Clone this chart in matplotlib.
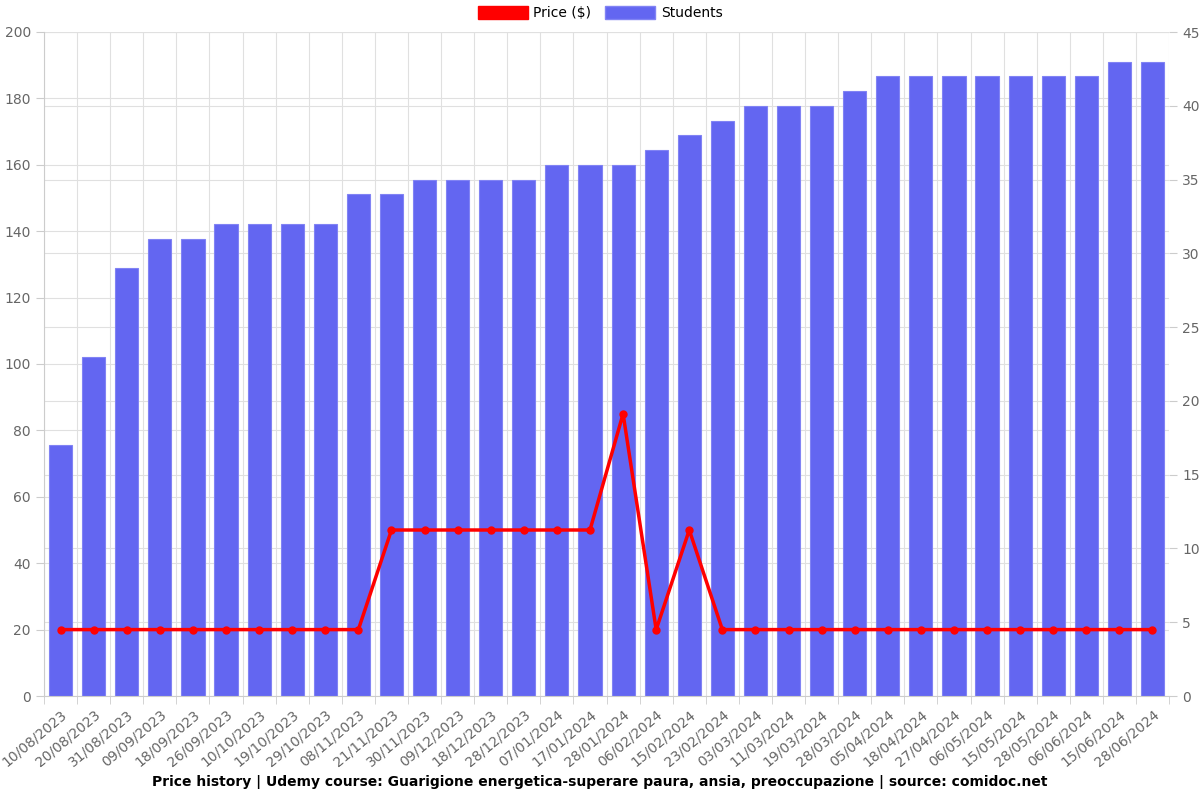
import numpy as np
import matplotlib
matplotlib.use("Agg")
import matplotlib.pyplot as plt

dates = ["10/08/2023", "20/08/2023", "31/08/2023", "09/09/2023", "18/09/2023", "26/09/2023",
         "10/10/2023", "19/10/2023", "29/10/2023", "08/11/2023", "21/11/2023", "30/11/2023",
         "09/12/2023", "18/12/2023", "28/12/2023", "07/01/2024", "17/01/2024", "28/01/2024",
         "06/02/2024", "15/02/2024", "23/02/2024", "03/03/2024", "11/03/2024", "19/03/2024",
         "28/03/2024", "05/04/2024", "18/04/2024", "27/04/2024", "06/05/2024", "15/05/2024",
         "28/05/2024", "06/06/2024", "15/06/2024", "28/06/2024"]
students = [17, 23, 29, 31, 31, 32, 32, 32, 32, 34, 34, 35, 35, 35, 35, 36, 36, 36,
            37, 38, 39, 40, 40, 40, 41, 42, 42, 42, 42, 42, 42, 42, 43, 43]
price = [20, 20, 20, 20, 20, 20, 20, 20, 20, 20, 50, 50, 50, 50, 50, 50, 50, 85,
         20, 50, 20, 20, 20, 20, 20, 20, 20, 20, 20, 20, 20, 20, 20, 20]

x = np.arange(len(dates))
grid_c = "#e0e0e0"
txt_c = "#666666"
s_max, p_max = 45, 200

fig = plt.figure(figsize=(12, 8), dpi=100)
ax_s = fig.add_axes([0.0367, 0.13, 0.9375, 0.83])
ax_p = ax_s.twinx()

# students bars (right axis)
ax_s.bar(x, students, width=0.7, color="#6366f1", edgecolor="#8183f4", linewidth=0.8, zorder=2)
ax_s.set_ylim(0, s_max)
ax_s.set_yticks(np.arange(0, 46, 5))
ax_s.yaxis.tick_right()
ax_s.set_xlim(-0.5, len(dates) - 0.5)
ax_s.set_xticks(x)
ax_s.set_xticklabels(dates, rotation=40, ha="right", rotation_mode="anchor", fontsize=10, color=txt_c)
ax_s.tick_params(axis="x", length=0, pad=8)
ax_s.set_xticks(np.arange(-0.5, len(dates), 1), minor=True)
ax_s.tick_params(axis="x", which="minor", length=6, color="#cccccc")
ax_s.grid(axis="x", which="minor", color=grid_c, linewidth=0.8, zorder=0)
ax_s.grid(axis="y", color=grid_c, linewidth=0.8, zorder=0)
# price grid lines, drawn behind the bars
for v in np.arange(20, 201, 20):
    ax_s.axhline(v * s_max / p_max, color=grid_c, linewidth=0.8, zorder=0)
ax_s.set_axisbelow(True)
ax_s.tick_params(axis="y", colors=txt_c, labelsize=10, length=6, right=True, left=False)
ax_s.tick_params(axis="y", color="#cccccc")

# price line (left axis)
ax_p.plot(x, price, color="#ff0000", linewidth=2.5, marker="o", markersize=5, zorder=3)
ax_p.set_ylim(0, p_max)
ax_p.set_yticks(np.arange(0, 201, 20))
ax_p.yaxis.tick_left()
ax_p.tick_params(axis="y", colors=txt_c, labelsize=10, length=6, left=True, right=False)
ax_p.tick_params(axis="y", color="#cccccc")

for a in (ax_s, ax_p):
    for side in ("top", "right"):
        a.spines[side].set_visible(False)
    a.spines["left"].set_color("#cccccc")
    a.spines["bottom"].set_color("#cccccc")
ax_s.spines["left"].set_visible(False)
ax_p.spines["bottom"].set_visible(False)

handles = [plt.Rectangle((0, 0), 1, 1, color="#ff0000"),
           plt.Rectangle((0, 0), 1, 1, facecolor="#6366f1", edgecolor="#8183f4")]
fig.legend(handles, ["Price ($)", "Students"], loc="upper center", bbox_to_anchor=(0.5, 1.008),
           ncol=2, frameon=False, fontsize=10, handlelength=3.6, handleheight=1.1,
           handletextpad=0.4, columnspacing=1.0)

fig.text(0.5, 0.0225, "Price history | Udemy course: Guarigione energetica-superare paura, ansia, preoccupazione | source: comidoc.net",
         ha="center", va="center", fontsize=10, fontweight="bold")

fig.savefig("out.png", dpi=100)
